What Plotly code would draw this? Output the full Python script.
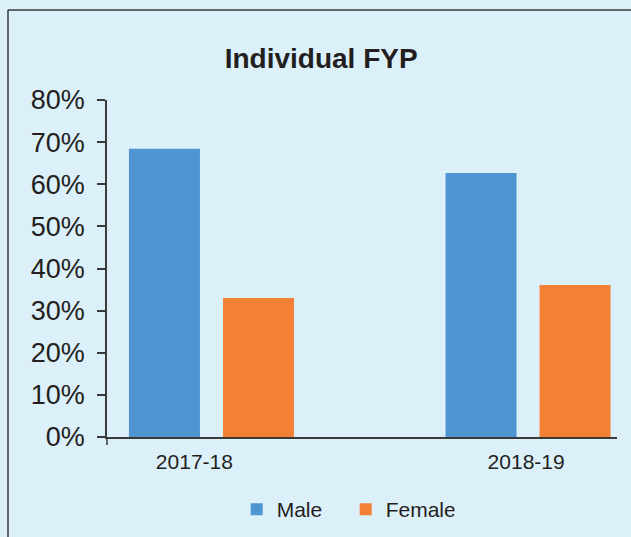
import plotly.graph_objects as go

categories = ["2017-18", "2018-19"]
male = [68.4, 62.7]
female = [33.0, 36.1]
y_ticks = [0, 10, 20, 30, 40, 50, 60, 70, 80]
y_tick_labels = [f"{v}%" for v in y_ticks]

BG = "#DCF0FA"
TXT = "#231F20"
AX = "#3A3A3A"
FONT = "Liberation Sans, Arial, Helvetica, sans-serif"

fig = go.Figure()
fig.add_trace(go.Bar(name="Male", x=categories, y=male, marker_color="#4E95D1",
                     marker_line_width=0))
fig.add_trace(go.Bar(name="Female", x=categories, y=female, marker_color="#F38033",
                     marker_line_width=0))

W, H = 631, 537
L, R, T, B = 107, 14, 100, 100
pw = W - L - R
ph = H - T - B

fig.update_layout(
    width=W, height=H,
    margin=dict(l=L, r=R, t=T, b=B, pad=0, autoexpand=False),
    paper_bgcolor=BG, plot_bgcolor=BG,
    barmode="group", bargap=0.406, bargroupgap=0.245,
    font=dict(family=FONT, color=TXT),
    title=dict(text="<b>Individual FYP</b>", x=0.509, xref="container", xanchor="center",
               y=1 - 58 / H, yref="container", yanchor="middle",
               font=dict(size=28, family=FONT, color=TXT)),
    showlegend=True,
    legend=dict(orientation="h", x=0.468, xanchor="center", y=1 - 489 / H, yanchor="top",
                yref="container",
                font=dict(size=21, family=FONT, color=TXT), bgcolor="rgba(0,0,0,0)",
                itemwidth=30, traceorder="normal", entrywidth=64, entrywidthmode="pixels"),
    xaxis=dict(type="category", range=[-0.33, 1.281], showgrid=False, zeroline=False,
               showline=True, linecolor=AX, linewidth=1.5, ticks="",
               tickmode="array", tickvals=[-0.054, 0.994], ticktext=categories,
               tickfont=dict(size=21, family=FONT, color=TXT), ticklabelstandoff=5,
               fixedrange=True),
    yaxis=dict(range=[0, 80], tickvals=y_ticks, ticktext=y_tick_labels, showgrid=False,
               zeroline=False, showline=True, linecolor=AX, linewidth=1.5,
               ticks="outside", ticklen=8, tickwidth=1.5, tickcolor=AX,
               tickfont=dict(size=27, family=FONT, color=TXT), ticklabelstandoff=7,
               fixedrange=True),
    shapes=[
        # outer frame: left and top edges
        dict(type="line", xref="paper", yref="paper",
             x0=(8 - L) / pw, x1=(8 - L) / pw,
             y0=-(B + 20) / ph, y1=1 + (T - 10) / ph,
             line=dict(color=AX, width=1.5)),
        dict(type="line", xref="paper", yref="paper",
             x0=(8 - L) / pw, x1=(W + 20 - L) / pw,
             y0=1 + (T - 10) / ph, y1=1 + (T - 10) / ph,
             line=dict(color=AX, width=1.5)),
        # small extension of y axis below zero
        dict(type="line", xref="paper", yref="paper", x0=0, x1=0, y0=0, y1=-8 / ph,
             line=dict(color=AX, width=1.5)),
    ],
)

fig.write_html("out.html", config={"displayModeBar": False},
               post_script="document.body.style.margin='0';document.body.style.padding='0';"
                           "document.body.style.overflow='hidden';")
